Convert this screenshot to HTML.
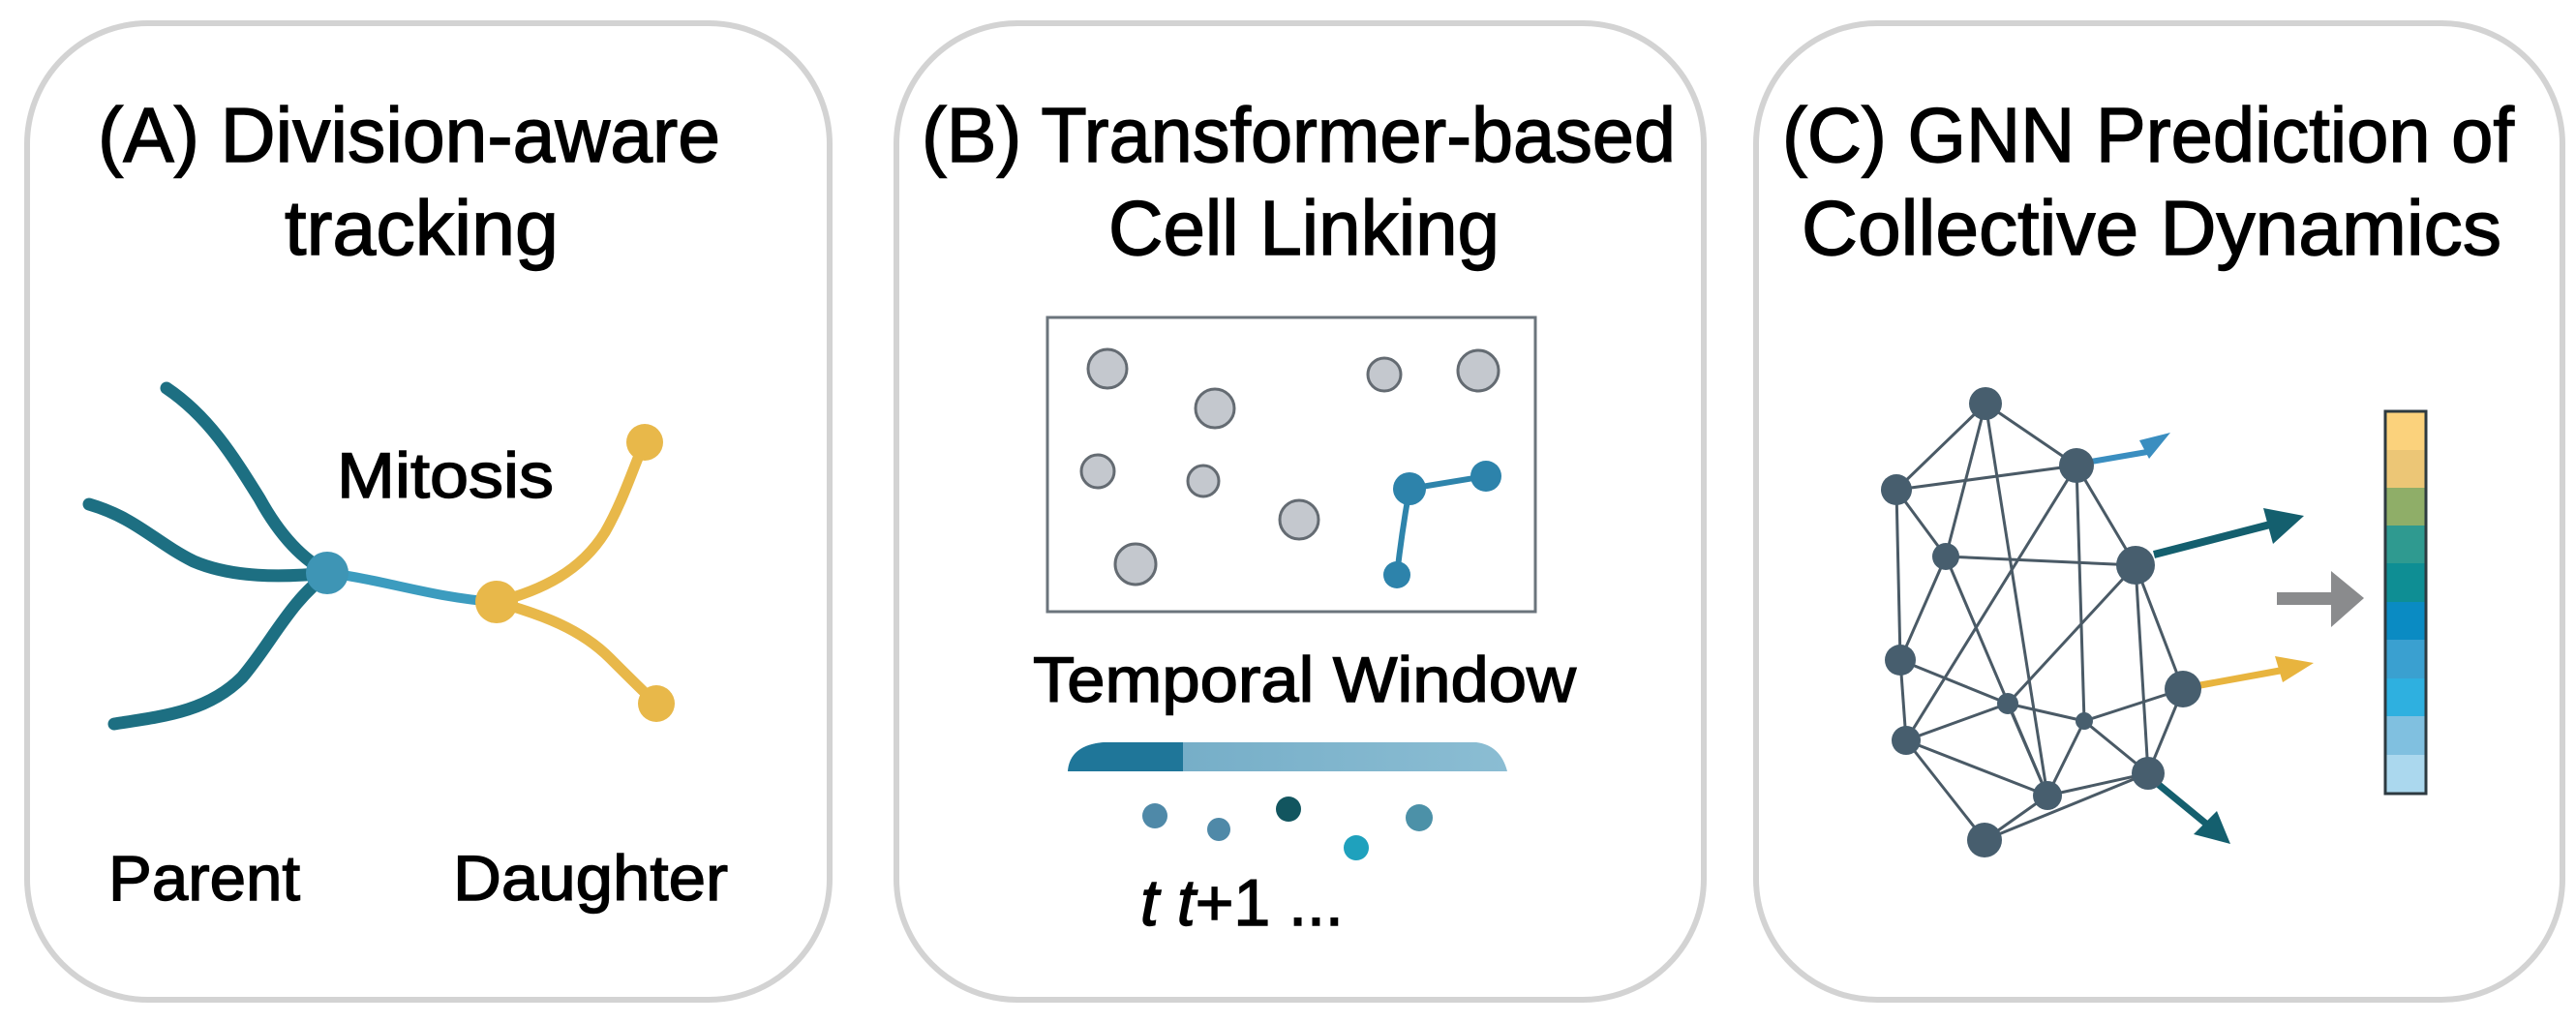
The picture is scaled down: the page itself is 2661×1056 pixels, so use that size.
<!DOCTYPE html>
<html><head><meta charset="utf-8"><style>
html,body{margin:0;padding:0;background:#fff}
svg{display:block}
text{font-family:"Liberation Sans",Arial,sans-serif;fill:#000;stroke:#000;stroke-width:1.4}
</style></head><body>
<svg width="2661" height="1056" viewBox="0 0 2661 1056" xmlns="http://www.w3.org/2000/svg">
<rect width="2661" height="1056" fill="#fff"/>
<!-- panels -->
<rect x="28" y="24" width="829" height="1009" rx="125" ry="125" fill="#fff" stroke="#d3d3d3" stroke-width="6"/>
<rect x="926" y="24" width="834" height="1009" rx="125" ry="125" fill="#fff" stroke="#d3d3d3" stroke-width="6"/>
<rect x="1814" y="24" width="833" height="1009" rx="125" ry="125" fill="#fff" stroke="#d3d3d3" stroke-width="6"/>

<!-- Titles -->
<text x="101" y="167" font-size="80" textLength="643" lengthAdjust="spacingAndGlyphs">(A) Division-aware</text>
<text x="294" y="263" font-size="80" textLength="283" lengthAdjust="spacingAndGlyphs">tracking</text>
<text x="952" y="167" font-size="80" textLength="779" lengthAdjust="spacingAndGlyphs">(B) Transformer-based</text>
<text x="1145" y="263" font-size="80" textLength="404" lengthAdjust="spacingAndGlyphs">Cell Linking</text>
<text x="1841" y="167" font-size="80" textLength="756" lengthAdjust="spacingAndGlyphs">(C) GNN Prediction of</text>
<text x="1861" y="263" font-size="80" textLength="723" lengthAdjust="spacingAndGlyphs">Collective Dynamics</text>

<!-- Panel A -->
<g fill="none" stroke-linecap="round">
<path d="M172,401 C215,430 240,470 268,515 C290,555 315,580 340,592" stroke="#1d6f82" stroke-width="13"/>
<path d="M92,521 C140,535 160,560 200,580 C240,597 290,597 340,592" stroke="#1d6f82" stroke-width="13"/>
<path d="M118,748 C170,740 215,735 250,700 C280,665 300,620 340,592" stroke="#1d6f82" stroke-width="13"/>
<path d="M340,592 C400,600 450,618 513,622" stroke="#3c9cbf" stroke-width="10"/>
<path d="M513,622 C560,610 600,590 625,550 C645,515 655,480 666,457" stroke="#e8b84a" stroke-width="11"/>
<path d="M513,622 C560,635 600,650 630,680 C650,700 665,715 678,727" stroke="#e8b84a" stroke-width="11"/>
</g>
<circle cx="338" cy="592" r="22" fill="#3e95b5"/>
<circle cx="513" cy="622" r="22" fill="#e8b84a"/>
<circle cx="666" cy="457" r="19" fill="#e8b84a"/>
<circle cx="678" cy="727" r="19" fill="#e8b84a"/>
<text x="348" y="514" font-size="66" textLength="224" lengthAdjust="spacingAndGlyphs">Mitosis</text>
<text x="112" y="930" font-size="66" textLength="198" lengthAdjust="spacingAndGlyphs">Parent</text>
<text x="468" y="930" font-size="66" textLength="284" lengthAdjust="spacingAndGlyphs">Daughter</text>

<!-- Panel B -->
<rect x="1082" y="328" width="504" height="304" fill="#fff" stroke="#6b747c" stroke-width="3"/>
<g fill="#c4c8ce" stroke="#646b72" stroke-width="3">
<circle cx="1144" cy="381" r="20"/>
<circle cx="1255" cy="422" r="20"/>
<circle cx="1430" cy="387" r="17"/>
<circle cx="1527" cy="383" r="21"/>
<circle cx="1134" cy="487" r="17"/>
<circle cx="1243" cy="497" r="16"/>
<circle cx="1342" cy="537" r="20"/>
<circle cx="1173" cy="583" r="21"/>
</g>
<g stroke="#2e84ab" stroke-width="6" fill="none"><path d="M1456,505 L1535,492"/><path d="M1456,505 Q1448,550 1443,594"/></g>
<g fill="#2d83ab"><circle cx="1456" cy="505" r="17"/><circle cx="1535" cy="492" r="16"/><circle cx="1443" cy="594" r="14"/></g>
<text x="1067" y="725" font-size="66" textLength="561" lengthAdjust="spacingAndGlyphs">Temporal Window</text>
<defs><linearGradient id="bar" x1="0" x2="1"><stop offset="0" stop-color="#6fa9c4"/><stop offset="1" stop-color="#8bbdd3"/></linearGradient></defs>
<path d="M1103,797 Q1105,770 1140,767 L1525,767 Q1550,770 1557,797 Z" fill="url(#bar)"/>
<path d="M1103,797 Q1105,770 1140,767 L1222,767 L1222,797 Z" fill="#1f7699"/>
<circle cx="1193" cy="843" r="13" fill="#4f89a8"/>
<circle cx="1259" cy="857" r="12" fill="#4f89a8"/>
<circle cx="1331" cy="836" r="13" fill="#12555f"/>
<circle cx="1401" cy="876" r="13" fill="#1fa1bd"/>
<circle cx="1466" cy="845" r="14" fill="#4c91a8"/>
<text x="1178" y="956" font-size="68"><tspan font-style="italic">t</tspan> <tspan font-style="italic">t</tspan>+1 ...</text>

<!-- Panel C -->
<g stroke="#4a5a66" stroke-width="3">
<line x1="2051" y1="417" x2="1959" y2="506"/>
<line x1="2051" y1="417" x2="2145" y2="481"/>
<line x1="2051" y1="417" x2="2010" y2="575"/>
<line x1="2051" y1="417" x2="2115" y2="822"/>
<line x1="1959" y1="506" x2="2145" y2="481"/>
<line x1="1959" y1="506" x2="2010" y2="575"/>
<line x1="1959" y1="506" x2="1963" y2="682"/>
<line x1="2010" y1="575" x2="2206" y2="584"/>
<line x1="2010" y1="575" x2="1963" y2="682"/>
<line x1="2010" y1="575" x2="2115" y2="822"/>
<line x1="2145" y1="481" x2="1969" y2="765"/>
<line x1="2145" y1="481" x2="2206" y2="584"/>
<line x1="2145" y1="481" x2="2153" y2="745"/>
<line x1="2206" y1="584" x2="2074" y2="727"/>
<line x1="2206" y1="584" x2="2255" y2="712"/>
<line x1="2206" y1="584" x2="2219" y2="799"/>
<line x1="1963" y1="682" x2="2074" y2="727"/>
<line x1="1963" y1="682" x2="1969" y2="765"/>
<line x1="2074" y1="727" x2="2153" y2="745"/>
<line x1="2074" y1="727" x2="2115" y2="822"/>
<line x1="1969" y1="765" x2="2074" y2="727"/>
<line x1="1969" y1="765" x2="2115" y2="822"/>
<line x1="1969" y1="765" x2="2050" y2="868"/>
<line x1="2153" y1="745" x2="2255" y2="712"/>
<line x1="2153" y1="745" x2="2115" y2="822"/>
<line x1="2153" y1="745" x2="2219" y2="799"/>
<line x1="2255" y1="712" x2="2219" y2="799"/>
<line x1="2115" y1="822" x2="2219" y2="799"/>
<line x1="2115" y1="822" x2="2050" y2="868"/>
<line x1="2219" y1="799" x2="2050" y2="868"/>
</g>
<!-- arrows -->
<g stroke-linecap="butt">
<line x1="2160" y1="477" x2="2218" y2="467" stroke="#3a8ec0" stroke-width="6"/>
<polygon points="2242,447 2210,455 2220,474" fill="#3a8ec0"/>
<line x1="2225" y1="573" x2="2345" y2="542" stroke="#145f6e" stroke-width="8"/>
<polygon points="2380,533 2338,525 2348,562" fill="#145f6e"/>
<line x1="2273" y1="708" x2="2355" y2="693" stroke="#e8b43e" stroke-width="7"/>
<polygon points="2390,685 2350,678 2358,705" fill="#e8b43e"/>
<line x1="2229" y1="810" x2="2280" y2="852" stroke="#145f6e" stroke-width="7"/>
<polygon points="2304,872 2266,862 2290,838" fill="#145f6e"/>
<rect x="2352" y="612" width="58" height="13" fill="#8a8b8d"/>
<polygon points="2408,590 2442,618 2408,648" fill="#8a8b8d"/>
</g>
<g fill="#475e6e">
<circle cx="2051" cy="417" r="17"/>
<circle cx="1959" cy="506" r="16"/>
<circle cx="2145" cy="481" r="18"/>
<circle cx="2010" cy="575" r="14"/>
<circle cx="2206" cy="584" r="20"/>
<circle cx="1963" cy="682" r="16"/>
<circle cx="2255" cy="712" r="19"/>
<circle cx="2074" cy="727" r="11"/>
<circle cx="2153" cy="745" r="9"/>
<circle cx="1969" cy="765" r="15"/>
<circle cx="2115" cy="822" r="15"/>
<circle cx="2219" cy="799" r="17"/>
<circle cx="2050" cy="868" r="18"/>
</g>
<!-- color bar -->
<g>
<rect x="2464" y="425" width="42" height="40" fill="#fbd27c"/>
<rect x="2464" y="465" width="42" height="39" fill="#ecc676"/>
<rect x="2464" y="504" width="42" height="39" fill="#8fae68"/>
<rect x="2464" y="543" width="42" height="39" fill="#2f9a90"/>
<rect x="2464" y="582" width="42" height="40" fill="#0e8e94"/>
<rect x="2464" y="622" width="42" height="39" fill="#0a8bc3"/>
<rect x="2464" y="661" width="42" height="40" fill="#3aa0d0"/>
<rect x="2464" y="701" width="42" height="39" fill="#2eb0e0"/>
<rect x="2464" y="740" width="42" height="40" fill="#80c0e0"/>
<rect x="2464" y="780" width="42" height="40" fill="#abd8ee"/>
<rect x="2464" y="425" width="42" height="395" fill="none" stroke="#2d3a40" stroke-width="3"/>
</g>
</svg>
</body></html>
